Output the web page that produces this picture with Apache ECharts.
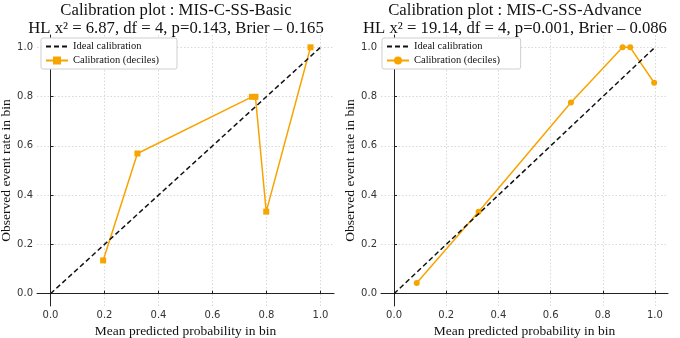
<!DOCTYPE html>
<html>
<head>
<meta charset="utf-8">
<script src="https://cdn.jsdelivr.net/npm/echarts@6/dist/echarts.min.js"></script>
<style>
  html, body { margin: 0; padding: 0; background: #fff; }
  #main { width: 680px; height: 338px; }
</style>
</head>
<body>
<div id="main"></div>
<script>
// tick values shared by both panels
const ticks = [0, 0.2, 0.4, 0.6, 0.8, 1.0]
const idealX = [0, 1]
const idealY = [0, 1]

// MIS-C-SS-Basic
const basicX = [0.195, 0.322, 0.746, 0.759, 0.799, 0.963]
const basicY = [0.135, 0.569, 0.799, 0.799, 0.333, 1.0]

// MIS-C-SS-Advance
const advX = [0.087, 0.324, 0.678, 0.876, 0.905, 0.997]
const advY = [0.043, 0.333, 0.776, 1.0, 1.0, 0.856]

const titles = [
  'Calibration plot : MIS-C-SS-Basic\nHL x² = 6.87, df = 4, p=0.143, Brier – 0.165',
  'Calibration plot : MIS-C-SS-Advance\nHL x² = 19.14, df = 4, p=0.001, Brier – 0.086'
]

const serif = 'Liberation Serif'
const orange = '#f7a400'

const zip = (xs, ys) => xs.map((x, i) => [x, ys[i]])

const axisCommon = {
  type: 'value',
  min: -0.05,
  max: 1.05,
  nameLocation: 'middle',
  nameTextStyle: { fontFamily: serif, fontSize: 13.5, color: '#111' },
  axisLine: { show: true, lineStyle: { color: '#222', width: 1 } },
  axisTick: { show: true, inside: true, length: 3, customValues: ticks, lineStyle: { color: '#222' } },
  axisLabel: {
    customValues: ticks,
    margin: 4,
    fontFamily: 'DejaVu Sans', fontSize: 10, color: '#333',
    formatter: v => v.toFixed(1)
  },
  splitLine: { show: true, lineStyle: { color: '#cfcfcf', type: [1.5, 2], width: 0.8 } }
}

const grids = [
  { left: 37, top: 35, width: 297, height: 271, outerBoundsMode: 'none' },
  { left: 381, top: 35, width: 287, height: 271, outerBoundsMode: 'none' }
]

const makeX = i => Object.assign({}, axisCommon, { gridIndex: i, name: 'Mean predicted probability in bin', nameGap: 9 })
const makeY = i => Object.assign({}, axisCommon, { gridIndex: i, name: 'Observed event rate in bin', nameGap: 22 })

const idealSeries = (i, name) => ({
  name,
  type: 'line',
  xAxisIndex: i,
  yAxisIndex: i,
  data: zip(idealX, idealY),
  symbol: 'none',
  lineStyle: { color: '#111', width: 1.5, type: [5, 3] },
  itemStyle: { color: '#111' },
  z: 3
})

const calSeries = (i, name, xs, ys, symbol) => ({
  name,
  type: 'line',
  xAxisIndex: i,
  yAxisIndex: i,
  data: zip(xs, ys),
  symbol,
  symbolSize: 6,
  showAllSymbol: true,
  lineStyle: { color: orange, width: 1.5 },
  itemStyle: { color: orange },
  z: 2
})

const legendCommon = {
  orient: 'vertical',
  top: 38,
  padding: [3, 18, 3, 4],
  itemGap: 3,
  itemWidth: 22,
  itemHeight: 10,
  backgroundColor: '#fff',
  borderColor: '#cfcfcf',
  borderWidth: 1,
  borderRadius: 2,
  textStyle: { fontFamily: serif, fontSize: 10.5, color: '#111' }
}

const option = {
  animation: false,
  backgroundColor: '#fff',
  title: titles.map((t, i) => ({
    text: t,
    left: i === 0 ? 176 : 515,
    top: 2,
    textAlign: 'center',
    padding: 0,
    textStyle: { fontFamily: serif, fontSize: 16.7, fontWeight: 'normal', color: '#111', lineHeight: 17.5 }
  })),
  legend: [
    Object.assign({}, legendCommon, {
      left: 41,
      data: [{ name: 'Ideal calibration', itemStyle: { opacity: 0 } }, 'Calibration (deciles)']
    }),
    Object.assign({}, legendCommon, {
      left: 382,
      data: [{ name: 'Ideal calibration ', itemStyle: { opacity: 0 } }, 'Calibration (deciles) ']
    })
  ],
  grid: grids,
  xAxis: [makeX(0), makeX(1)],
  yAxis: [makeY(0), makeY(1)],
  series: [
    idealSeries(0, 'Ideal calibration'),
    calSeries(0, 'Calibration (deciles)', basicX, basicY, 'rect'),
    idealSeries(1, 'Ideal calibration '),
    calSeries(1, 'Calibration (deciles) ', advX, advY, 'circle')
  ]
}

const myChart = echarts.init(document.getElementById('main'), null, { renderer: 'canvas' })
myChart.setOption(option)
</script>
</body>
</html>
